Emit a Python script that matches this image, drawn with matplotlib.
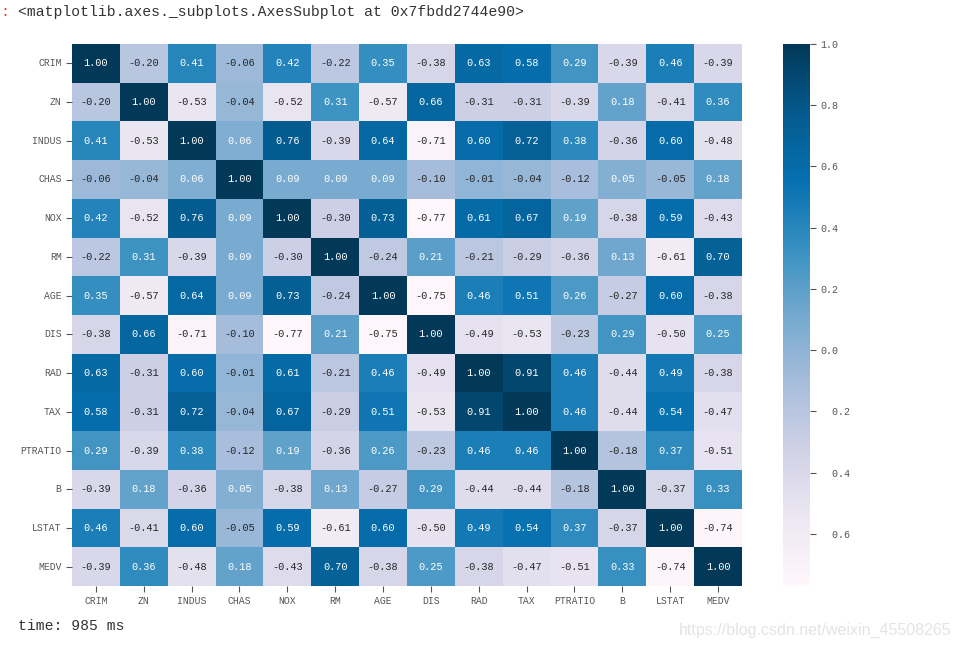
import numpy as np
import seaborn as sns
import matplotlib
matplotlib.use('Agg')
import matplotlib.pyplot as plt

columns = ['CRIM', 'ZN', 'INDUS', 'CHAS', 'NOX', 'RM', 'AGE', 'DIS', 'RAD', 'TAX',
           'PTRATIO', 'B', 'LSTAT', 'MEDV']
crim = [1.00, -0.20, 0.41, -0.06, 0.42, -0.22, 0.35, -0.38, 0.63, 0.58, 0.29, -0.39, 0.46, -0.39]
zn = [-0.20, 1.00, -0.53, -0.04, -0.52, 0.31, -0.57, 0.66, -0.31, -0.31, -0.39, 0.18, -0.41, 0.36]
indus = [0.41, -0.53, 1.00, 0.06, 0.76, -0.39, 0.64, -0.71, 0.60, 0.72, 0.38, -0.36, 0.60, -0.48]
chas = [-0.06, -0.04, 0.06, 1.00, 0.09, 0.09, 0.09, -0.10, -0.01, -0.04, -0.12, 0.05, -0.05, 0.18]
nox = [0.42, -0.52, 0.76, 0.09, 1.00, -0.30, 0.73, -0.77, 0.61, 0.67, 0.19, -0.38, 0.59, -0.43]
rm = [-0.22, 0.31, -0.39, 0.09, -0.30, 1.00, -0.24, 0.21, -0.21, -0.29, -0.36, 0.13, -0.61, 0.70]
age = [0.35, -0.57, 0.64, 0.09, 0.73, -0.24, 1.00, -0.75, 0.46, 0.51, 0.26, -0.27, 0.60, -0.38]
dis = [-0.38, 0.66, -0.71, -0.10, -0.77, 0.21, -0.75, 1.00, -0.49, -0.53, -0.23, 0.29, -0.50, 0.25]
rad = [0.63, -0.31, 0.60, -0.01, 0.61, -0.21, 0.46, -0.49, 1.00, 0.91, 0.46, -0.44, 0.49, -0.38]
tax = [0.58, -0.31, 0.72, -0.04, 0.67, -0.29, 0.51, -0.53, 0.91, 1.00, 0.46, -0.44, 0.54, -0.47]
ptratio = [0.29, -0.39, 0.38, -0.12, 0.19, -0.36, 0.26, -0.23, 0.46, 0.46, 1.00, -0.18, 0.37, -0.51]
b = [-0.39, 0.18, -0.36, 0.05, -0.38, 0.13, -0.27, 0.29, -0.44, -0.44, -0.18, 1.00, -0.37, 0.33]
lstat = [0.46, -0.41, 0.60, -0.05, 0.59, -0.61, 0.60, -0.50, 0.49, 0.54, 0.37, -0.37, 1.00, -0.74]
medv = [-0.39, 0.36, -0.48, 0.18, -0.43, 0.70, -0.38, 0.25, -0.38, -0.47, -0.51, 0.33, -0.74, 1.00]
cbar_ticks = [-0.6, -0.4, -0.2, 0.0, 0.2, 0.4, 0.6, 0.8, 1.0]
# the minus sign is missing from the original colorbar labels
cbar_labels = ['  0.6', '  0.4', '  0.2', '0.0', '0.2', '0.4', '0.6', '0.8', '1.0']

corr = np.array([crim, zn, indus, chas, nox, rm, age, dis, rad, tax, ptratio, b, lstat, medv])

W, H = 960, 648
plt.rcParams['font.family'] = ['Liberation Mono', 'DejaVu Sans Mono']
fig = plt.figure(figsize=(W / 100, H / 100), dpi=100)
ax = fig.add_axes([72 / W, 1 - 586 / H, 670 / W, 542 / H])
cax = fig.add_axes([783 / W, 1 - 586 / H, 27 / W, 542 / H])

sns.heatmap(corr, annot=True, fmt='.2f', cmap='PuBu', vmin=-0.77, vmax=1.0,
            xticklabels=columns, yticklabels=columns, ax=ax, cbar_ax=cax,
            annot_kws={'fontsize': 7.4})

ax.tick_params(axis='both', labelsize=7, labelcolor='#555555', color='#555555', length=4, width=0.8)
ax.set_yticklabels(columns, rotation=0)
ax.set_xticklabels(columns, rotation=0)

cax.set_yticks(cbar_ticks)
cax.set_yticklabels(cbar_labels)
cax.tick_params(labelsize=7.2, labelcolor='#555555', color='#555555', length=4, width=0.8)

# notebook output text around the chart
fig.text(0, 1 - 12 / H, ':', color='#d84a2a', fontsize=10.6, va='center')
fig.text(18 / W, 1 - 12 / H, '<matplotlib.axes._subplots.AxesSubplot at 0x7fbdd2744e90>',
         color='#333333', fontsize=10.6, va='center')
fig.text(18 / W, 1 - 626 / H, 'time: 985 ms', color='#333333', fontsize=10.6, va='center')
fig.text(951 / W, 1 - 630 / H, 'https://blog.csdn.net/weixin_45508265', color='#e4e4e4',
         fontsize=11.5, family='Liberation Sans', ha='right', va='center')

fig.savefig('out.png', dpi=100)
